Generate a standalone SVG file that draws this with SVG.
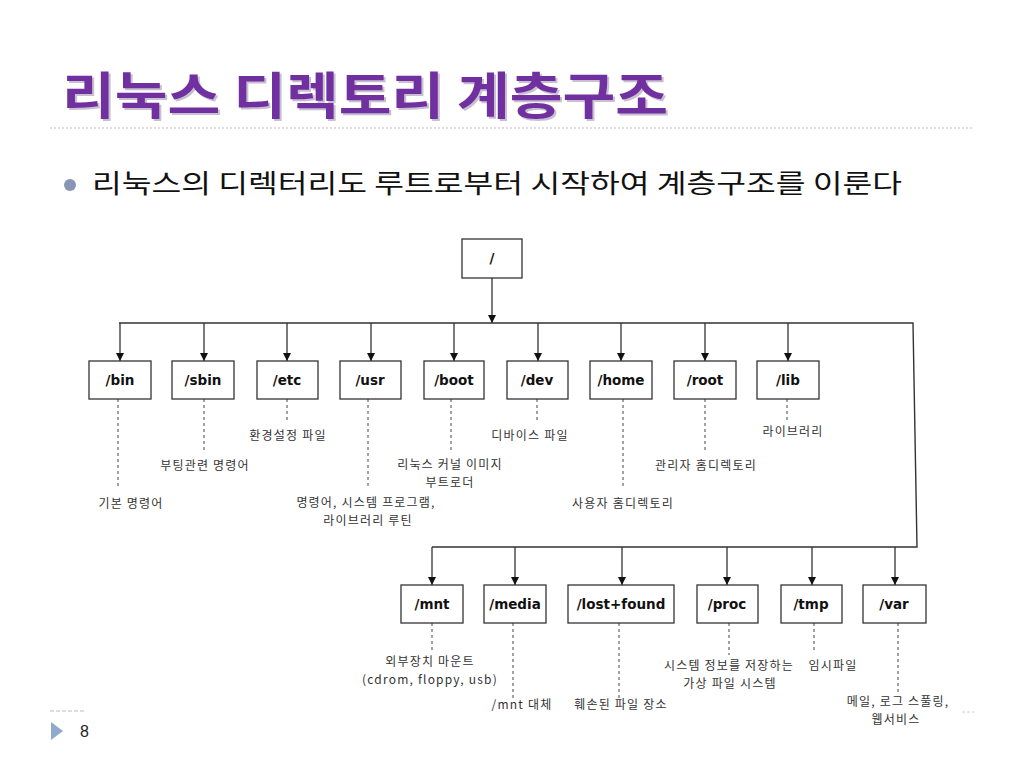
<svg xmlns="http://www.w3.org/2000/svg" width="1024" height="768" viewBox="0 0 1024 768">
<defs>
<marker id="arr" viewBox="0 0 10 10" refX="10" refY="5" markerWidth="8" markerHeight="8" markerUnits="userSpaceOnUse" orient="auto">
<path d="M0,0 L10,5 L0,10 z" fill="#111"/>
</marker>
<style>
.box{fill:#fff;stroke:#333;stroke-width:1.3}
.bt{font-family:"DejaVu Sans",Verdana,sans-serif;font-weight:bold;font-size:13.5px;fill:#111;text-anchor:middle}
.lb{font-family:"Noto Sans CJK KR","DejaVu Sans",sans-serif;font-size:12px;letter-spacing:1.2px;fill:#333;text-anchor:middle}
.ln{fill:none;stroke:#333;stroke-width:1.4}
.ar{fill:none;stroke:#333;stroke-width:1.3;marker-end:url(#arr)}
.ds{fill:none;stroke:#444;stroke-width:1;stroke-dasharray:3,3}
</style>
</defs>
<rect width="1024" height="768" fill="#fff"/>
<!-- title -->
<text x="64" y="116" font-family="Noto Sans CJK KR,sans-serif" font-weight="bold" font-size="50" fill="#c8c0d0" textLength="606" lengthAdjust="spacingAndGlyphs">리눅스 디렉토리 계층구조</text>
<text x="62" y="114" font-family="Noto Sans CJK KR,sans-serif" font-weight="bold" font-size="50" fill="#7030a0" textLength="606" lengthAdjust="spacingAndGlyphs">리눅스 디렉토리 계층구조</text>
<line x1="50" y1="128" x2="972" y2="128" stroke="#bbb" stroke-width="1.2" stroke-dasharray="2,2"/>
<circle cx="70" cy="185" r="6" fill="#8896b4"/>
<text x="92" y="193" font-family="Noto Sans CJK KR,sans-serif" font-size="26" fill="#111" textLength="810" lengthAdjust="spacingAndGlyphs">리눅스의 디렉터리도 루트로부터 시작하여 계층구조를 이룬다</text>

<!-- connectors -->
<g id="connectors">
<line class="ar" x1="492" y1="278" x2="492" y2="323"/>
<polyline class="ln" points="119,323 913,323 917,547 432,547"/>
<line class="ar" x1="120" y1="323" x2="120" y2="361"/>
<line class="ar" x1="204" y1="323" x2="204" y2="361"/>
<line class="ar" x1="287" y1="323" x2="287" y2="361"/>
<line class="ar" x1="371" y1="323" x2="371" y2="361"/>
<line class="ar" x1="454" y1="323" x2="454" y2="361"/>
<line class="ar" x1="538" y1="323" x2="538" y2="361"/>
<line class="ar" x1="621" y1="323" x2="621" y2="361"/>
<line class="ar" x1="705" y1="323" x2="705" y2="361"/>
<line class="ar" x1="788" y1="323" x2="788" y2="361"/>
<line class="ar" x1="432" y1="547" x2="432" y2="585"/>
<line class="ar" x1="515" y1="547" x2="515" y2="585"/>
<line class="ar" x1="622" y1="547" x2="622" y2="585"/>
<line class="ar" x1="727" y1="547" x2="727" y2="585"/>
<line class="ar" x1="812" y1="547" x2="812" y2="585"/>
<line class="ar" x1="895" y1="547" x2="895" y2="585"/>
<!-- dashed -->
<line class="ds" x1="118" y1="399" x2="118" y2="488"/>
<line class="ds" x1="204" y1="399" x2="204" y2="452"/>
<line class="ds" x1="287" y1="399" x2="287" y2="423"/>
<line class="ds" x1="368" y1="399" x2="368" y2="488"/>
<line class="ds" x1="451" y1="399" x2="451" y2="452"/>
<line class="ds" x1="537" y1="399" x2="537" y2="422"/>
<line class="ds" x1="623" y1="399" x2="623" y2="488"/>
<line class="ds" x1="705" y1="399" x2="705" y2="453"/>
<line class="ds" x1="787" y1="399" x2="787" y2="423"/>
<line class="ds" x1="432" y1="623" x2="432" y2="653"/>
<line class="ds" x1="513" y1="623" x2="513" y2="698"/>
<line class="ds" x1="619" y1="623" x2="619" y2="698"/>
<line class="ds" x1="729" y1="623" x2="729" y2="655"/>
<line class="ds" x1="814" y1="623" x2="814" y2="653"/>
<line class="ds" x1="898" y1="623" x2="898" y2="695"/>
</g>

<g id="n-root"><rect class="box" x="462" y="239" width="60" height="39"/><text class="bt" x="492" y="263">/</text></g>
<g id="n-bin"><rect class="box" x="89" y="361" width="62" height="38"/><text class="bt" x="120" y="385">/bin</text><text class="lb" x="131" y="508">기본 명령어</text></g>
<g id="n-sbin"><rect class="box" x="172" y="361" width="62" height="38"/><text class="bt" x="203" y="385">/sbin</text><text class="lb" x="205" y="470">부팅관련 명령어</text></g>
<g id="n-etc"><rect class="box" x="257" y="361" width="61" height="38"/><text class="bt" x="287" y="385">/etc</text><text class="lb" x="288" y="440">환경설정 파일</text></g>
<g id="n-usr"><rect class="box" x="340" y="361" width="61" height="38"/><text class="bt" x="370" y="385">/usr</text><text class="lb" x="366" y="507">명령어, 시스템 프로그램,</text><text class="lb" x="368" y="525">라이브러리 루틴</text></g>
<g id="n-boot"><rect class="box" x="424" y="361" width="60" height="38"/><text class="bt" x="454" y="385">/boot</text><text class="lb" x="450" y="469">리눅스 커널 이미지</text><text class="lb" x="450" y="487">부트로더</text></g>
<g id="n-dev"><rect class="box" x="507" y="361" width="61" height="38"/><text class="bt" x="537" y="385">/dev</text><text class="lb" x="530" y="440">디바이스 파일</text></g>
<g id="n-home"><rect class="box" x="590" y="361" width="62" height="38"/><text class="bt" x="621" y="385">/home</text><text class="lb" x="623" y="508">사용자 홈디렉토리</text></g>
<g id="n-root-dir"><rect class="box" x="674" y="361" width="62" height="38"/><text class="bt" x="705" y="385">/root</text><text class="lb" x="706" y="470">관리자 홈디렉토리</text></g>
<g id="n-lib"><rect class="box" x="757" y="361" width="62" height="38"/><text class="bt" x="788" y="385">/lib</text><text class="lb" x="793" y="436">라이브러리</text></g>

<g id="n-mnt"><rect class="box" x="401" y="585" width="62" height="38"/><text class="bt" x="432" y="609">/mnt</text><text class="lb" x="430" y="666">외부장치 마운트</text><text class="lb" x="430" y="684">(cdrom, floppy, usb)</text></g>
<g id="n-media"><rect class="box" x="484" y="585" width="62" height="38"/><text class="bt" x="515" y="609">/media</text><text class="lb" x="522" y="709">/mnt 대체</text></g>
<g id="n-lostfound"><rect class="box" x="568" y="585" width="106" height="38"/><text class="bt" x="621" y="609">/lost+found</text><text class="lb" x="621" y="709">훼손된 파일 장소</text></g>
<g id="n-proc"><rect class="box" x="697" y="585" width="61" height="38"/><text class="bt" x="727" y="609">/proc</text><text class="lb" x="729" y="670">시스템 정보를 저장하는</text><text class="lb" x="730" y="688">가상 파일 시스템</text></g>
<g id="n-tmp"><rect class="box" x="781" y="585" width="61" height="38"/><text class="bt" x="811" y="609">/tmp</text><text class="lb" x="833" y="670">임시파일</text></g>
<g id="n-var"><rect class="box" x="863" y="585" width="63" height="38"/><text class="bt" x="894" y="609">/var</text><text class="lb" x="898" y="706">메일, 로그 스풀링,</text><text class="lb" x="896" y="724">웹서비스</text></g>

<!-- footer -->
<line x1="50" y1="711" x2="86" y2="711" stroke="#bbb" stroke-width="1" stroke-dasharray="4,2"/>
<line x1="962" y1="712" x2="974" y2="712" stroke="#ccc" stroke-width="1" stroke-dasharray="3,2"/>
<polygon points="51,722 63,731 51,740" fill="#8faacc"/>
<text x="80" y="737" font-family="Liberation Sans,Arial,sans-serif" font-size="16" fill="#222">8</text>
</svg>
